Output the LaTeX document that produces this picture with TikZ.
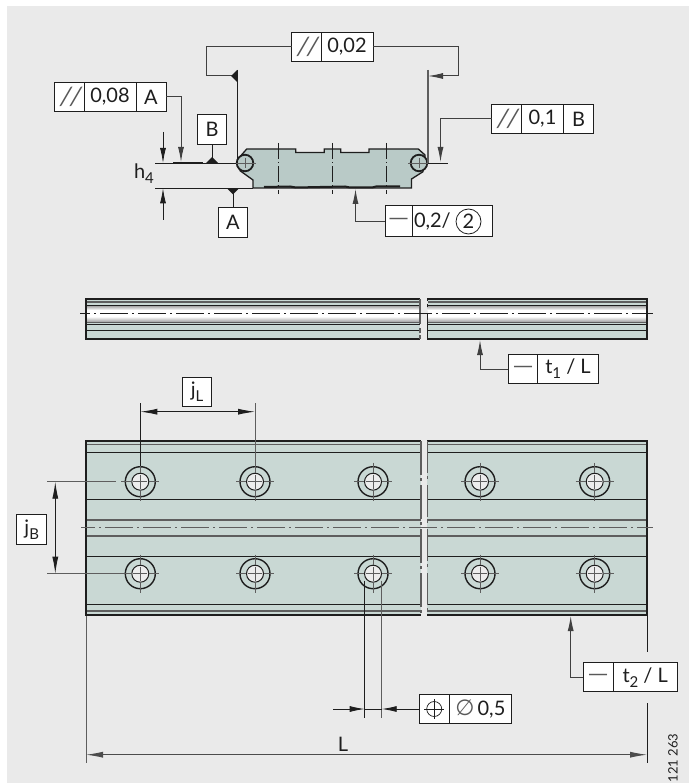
\documentclass[tikz,border=0pt]{standalone}
\usepackage{fontspec}
\setmainfont{Lato}
\newfontfamily\symfont{DejaVu Sans}
\usetikzlibrary{arrows.meta,calc}
\definecolor{bgc}{HTML}{EAEAEA}
\definecolor{railc}{HTML}{C9D8D4}
\definecolor{secc}{HTML}{B9CAC7}
\definecolor{inkc}{HTML}{1E1E1E}
\definecolor{greyc}{HTML}{5E5E5E}
\definecolor{holec}{HTML}{EDEDED}
\newcommand\sbs[1]{\raisebox{-0.5ex}{\fontsize{15}{15}\selectfont #1}}
\newcommand\parsym{{\color{black!65}\fontsize{25}{25}\selectfont\addfontfeatures{FakeSlant=0.18}/\kern-1.5pt/}}
\newcommand\dashsym{{\color{black!65}\symfont\fontsize{20}{20}\selectfont —}}
\tikzset{
  cell/.style={draw=inkc,fill=white,line width=1pt,minimum height=29.5pt,inner sep=0pt,outer sep=0pt,
     font=\fontsize{20}{22}\selectfont,text=inkc},
  ldr/.style={draw=black!75,line width=1pt},
  dim/.style={draw=inkc,line width=.9pt},
  tip/.style={-{Latex[length=15pt,width=6pt]}},
  tips/.style={{Latex[length=17pt,width=6pt]}-{Latex[length=17pt,width=6pt]}},
  edge/.style={draw=inkc,line width=1.8pt},
  thin/.style={draw=inkc,line width=1pt},
  soft/.style={draw=greyc,line width=1.3pt},
  datum/.style={fill=inkc,draw=none},
  outerh/.style={circle,draw=inkc,line width=1.4pt,minimum size=30pt,inner sep=0pt,fill=railc},
  innerh/.style={circle,draw=inkc,line width=1pt,minimum size=17pt,inner sep=0pt,fill=holec},
}
\begin{document}
\begin{tikzpicture}[x=1pt,y=-1pt]
\useasboundingbox (0,0) rectangle (689,783);
\fill[white] (0,0) rectangle (689,783);
\fill[bgc] (7,6) rectangle (689,783);

%% ---------- profile ----------
\fill[secc,draw=inkc,line width=1.3pt]
 (240,156.7) -- (246.7,149) -- (295.7,149) -- (295.7,152.5) -- (324.3,152.5) -- (324.3,149) -- (340.7,149)
 -- (340.7,152.5) -- (369,152.5) -- (369,149) -- (418.3,149) -- (425,155) -- (423,171.7) -- (411.5,179)
 -- (411.5,188) -- (253,188) -- (253,180) -- (240,170.7) -- cycle;
\draw[inkc,line width=2pt] (264,187) -- (290,186.5) -- (296,187.5) -- (320,187) -- (345,186.5) -- (350,187.5) -- (372,187.5) -- (376,186.5) -- (400,186.5);
\foreach \x in {278.3,332.5,386.3}
  \draw[draw=inkc,line width=.8pt,dash pattern=on 16pt off 3pt on 1.5pt off 3pt] (\x,143) -- (\x,194);
\node[circle,draw=inkc,line width=1.8pt,fill=secc,minimum size=16.5pt,inner sep=0pt] (pinL) at (245,163) {};
\node[circle,draw=inkc,line width=1.8pt,fill=secc,minimum size=16.5pt,inner sep=0pt] (pinR) at (419,163) {};
\foreach \n in {pinL,pinR}{
  \draw[greyc,line width=.6pt] ($(\n)+(-11,0)$) -- ($(\n)+(11,0)$);
  \draw[greyc,line width=.6pt] ($(\n)+(0,-5)$) -- ($(\n)+(0,5)$);
}

%% reference lines
\coordinate (h4a) at (155,163);
\coordinate (h4b) at (155,188.3);
\draw[dim] (h4a) -- (pinL.west);
\draw[inkc,line width=1.4pt] (173,163) -- (203,163);
\draw[dim] (h4b) -- (253,188.3);
\draw[dim] (pinR.east) -- (448,163);

%% h4
\coordinate (h4t) at (163,132);
\coordinate (h4u) at (163,163);
\coordinate (h4v) at (163,188.3);
\coordinate (h4w) at (163,220);
\draw[dim,tip] (h4t) -- (h4u);
\draw[dim,tip] (h4w) -- (h4v);
\node[font=\fontsize{20}{22}\selectfont,text=inkc] (h4) at (144,174) {h\sbs{4}};

%% tolerance 0,08 A
\node[cell,minimum width=29.5pt] (a1) at (69.5,97) {\parsym};
\node[cell,minimum width=52pt] (a2) at (110,97) {0,08};
\node[cell,minimum width=30pt] (a3) at (151,97) {A};
\coordinate (a4) at (181,162);
\draw[ldr,tip] (a3.east) -| (a4);

%% datums
\node[cell,minimum width=29.5pt] (bB) at (212,129.5) {B};
\coordinate (bBf) at (212,163);
\draw[dim] (bB.south) -- (bBf);
\fill[datum] (206,163) -- (212,157) -- (218,163) -- cycle;
\node[cell,minimum width=29.5pt] (bA) at (233,222.5) {A};
\coordinate (bAf) at (233,188.3);
\draw[dim] (bA.north) -- (bAf);
\fill[datum] (227,188.3) -- (239,188.3) -- (233,194.5) -- cycle;

%% tolerance 0,02
\node[cell,minimum width=29.5pt] (c1) at (306.5,47) {\parsym};
\node[cell,minimum width=52pt] (c2) at (347,47) {0,02};
\coordinate (cl1) at (206,76);
\coordinate (cl2) at (237,76);
\coordinate (cr1) at (458.5,76);
\coordinate (cr2) at (428,76);
\coordinate (cv1) at (237,70);
\coordinate (cv1b) at (237,163);
\coordinate (cv2) at (428,70);
\coordinate (cv2b) at (428,163);
\draw[ldr] (c1.west) -| (cl1) -- (cl2);
\draw[ldr] (c2.east) -| (cr1);
\draw[ldr,tip] (cr1) -- (cr2);
\fill[datum] (237,70) -- (237,82) -- (231,76) -- cycle;
\draw[dim] (cv1) -- (cv1b);
\draw[soft,line width=1.1pt] (cv2) -- (cv2b);

%% tolerance 0,1 B
\node[cell,minimum width=29.5pt] (d1) at (506.5,119) {\parsym};
\node[cell,minimum width=43pt] (d2) at (542.5,119) {0,1};
\node[cell,minimum width=29.5pt] (d3) at (578.5,119) {B};
\coordinate (d4) at (440.5,162);
\draw[ldr,tip] (d1.west) -| (d4);

%% straightness 0,2/2
\node[cell,minimum width=27pt,minimum height=31pt] (e1) at (398.5,221.5) {\dashsym};
\node[cell,minimum width=80pt,minimum height=31pt,text width=76pt,align=left] (e2) at (452,221.5) {0,2/};
\node[circle,draw=inkc,line width=.8pt,inner sep=0pt,minimum size=25pt,font=\fontsize{20}{22}\selectfont,text=inkc] (e3) at (468.5,221.5) {2};
\coordinate (e4) at (355.5,189);
\draw[ldr,tip] (e1.west) -| (e4);

%% ---------- side view ----------
\foreach \xa/\xb/\n in {86/420.3/l,427.5/647/r}{
  \fill[railc] (\xa,298.7) rectangle (\xb,339);
  \fill[white] (\xa,305) rectangle (\xb,322.5);
  \shade[top color=black!42,bottom color=white] (\xa,305) rectangle (\xb,310);
  \shade[top color=white,bottom color=black!42] (\xa,316.5) rectangle (\xb,322.5);
  \draw[soft] (\xa,302) -- (\xb,302);
  \draw[thin] (\xa,305) -- (\xb,305);
  \draw[soft,line width=1pt] (\xa,322.5) -- (\xb,322.5);
  \draw[thin] (\xa,324) -- (\xb,324);
  \draw[thin] (\xa,330.5) -- (\xb,330.5);
  \draw[edge] (\xa,298.7) -- (\xb,298.7);
  \draw[edge] (\xa,339) -- (\xb,339);
}
\draw[edge] (86,298) -- (86,339.7);
\draw[edge] (647,298) -- (647,339.7);
\draw[soft,line width=1.6pt] (420,299) -- (420,323.5) (420,328) -- (420,333) (420,335) -- (420,339);
\draw[edge] (427.5,298) -- (427.5,300.5) (427.5,303.5) -- (427.5,306.5) (427.5,313) -- (427.5,339.7);
\coordinate (sa) at (80,313.3);
\coordinate (sb) at (652.5,313.3);
\draw[draw=inkc,line width=.9pt,dash pattern=on 28pt off 4pt on 2pt off 4pt,dash phase=18pt] (sa) -- (sb);

\node[cell,minimum width=29.5pt] (t1a) at (523,369) {\dashsym};
\node[cell,minimum width=60.5pt] (t1b) at (568,369) {t\sbs{1} / L};
\coordinate (t1e) at (480,340);
\draw[ldr,tip] (t1a.west) -| (t1e);

%% ---------- plan view ----------
\foreach \xa/\xb in {86/420.7,427.3/646.7}{
  \fill[railc] (\xa,441) rectangle (\xb,615);
  \draw[soft] (\xa,444.5) -- (\xb,444.5);
  \draw[thin] (\xa,452) -- (\xb,452);
  \draw[thin] (\xa,499.3) -- (\xb,499.3);
  \draw[soft] (\xa,520) -- (\xb,520);
  \draw[soft] (\xa,536) -- (\xb,536);
  \draw[thin] (\xa,556) -- (\xb,556);
  \draw[thin] (\xa,604) -- (\xb,604);
  \draw[soft,line width=1.7pt] (\xa,610.7) -- (\xb,610.7);
  \draw[edge] (\xa,441) -- (\xb,441);
  \draw[edge] (\xa,615) -- (\xb,615);
}
\draw[edge] (86,440.3) -- (86,615.7);
\draw[edge] (646.7,440.3) -- (646.7,615.7);
\draw[soft,line width=1.6pt,dash pattern=on 34pt off 3pt on 3pt off 4pt] (420.7,441) -- (420.7,615);
\draw[soft,line width=1.3pt,dash pattern=on 32pt off 3pt on 3pt off 6pt] (427.3,441) -- (427.3,615);
\coordinate (pa) at (81,527.7);
\coordinate (pb) at (652.7,527.7);
\draw[draw=greyc,line width=1.4pt,dash pattern=on 28pt off 4pt on 2pt off 4pt,dash phase=14pt] (pa) -- (pb);

\foreach \x/\n in {140.3/A,255/B,373/C,480/D,594.7/E}{
  \foreach \y/\m in {481.7/u,573.7/v}{
    \node[outerh] (o\n\m) at (\x,\y) {};
    \node[innerh] (i\n\m) at (\x,\y) {};
    \draw[greyc,line width=1pt] ($(\x,\y)+(-19,0)$) -- ($(\x,\y)+(-9,0)$);
    \draw[greyc,line width=1pt] ($(\x,\y)+(9,0)$) -- ($(\x,\y)+(19,0)$);
    \draw[greyc,line width=1pt] ($(\x,\y)+(0,-19)$) -- ($(\x,\y)+(0,-9)$);
    \draw[greyc,line width=1pt] ($(\x,\y)+(0,9)$) -- ($(\x,\y)+(0,19)$);
    \draw[greyc,line width=.7pt] ($(\x,\y)+(-7,0)$) -- ($(\x,\y)+(7,0)$);
    \draw[greyc,line width=.7pt] ($(\x,\y)+(0,-7)$) -- ($(\x,\y)+(0,7)$);
  }
}

%% jL
\node[cell,minimum width=29.5pt] (jl) at (197,392) {j\sbs{L}};
\coordinate (jla) at (140.3,403);
\coordinate (jlb) at (255,403);
\coordinate (jlc) at (140.3,411.7);
\coordinate (jld) at (255,411.7);
\draw[dim] (jla) -- (oAu.north);
\draw[soft,line width=1pt] (jlb) -- (oBu.north);
\draw[dim,tips] (jlc) -- (jld);

%% jB
\node[cell,minimum width=29.5pt] (jb) at (31.7,529.5) {j\sbs{B}};
\coordinate (jba) at (47,481.7);
\coordinate (jbb) at (47,573.7);
\coordinate (jbc) at (55.3,481.7);
\coordinate (jbd) at (55.3,573.7);
\coordinate (jbe) at (116,481.7);
\draw[soft,line width=1pt] (jba) -- (jbe);
\draw[soft,line width=1pt] (jbb) -- (oAv.west);
\draw[dim,tips] (jbc) -- (jbd);

%% t2
\node[cell,minimum width=29.7pt] (t2a) at (598.2,677.2) {\dashsym};
\node[cell,minimum width=64.3pt] (t2b) at (645.2,677.2) {t\sbs{2} / L};
\coordinate (t2e) at (570.7,616);
\draw[ldr,tip] (t2a.west) -| (t2e);

%% position
\node[cell,minimum width=29.7pt] (p1) at (434.2,709) {};
\node[cell,minimum width=62.7pt] (p2) at (480.4,709) {{\color{black!65}\symfont\fontsize{22}{22}\selectfont ∅}\kern3pt 0,5};
\node[circle,draw=inkc,line width=.7pt,minimum size=15pt,inner sep=0pt] (p3) at (p1.center) {};
\draw[inkc,line width=.7pt] ($(p3)+(-10,0)$) -- ($(p3)+(10,0)$);
\draw[inkc,line width=.7pt] ($(p3)+(0,-10)$) -- ($(p3)+(0,10)$);
\coordinate (pv1) at (364.7,717.7);
\coordinate (pv2) at (381.7,717.7);
\coordinate (pv1a) at (364.7,709);
\coordinate (pv2a) at (381.7,709);
\coordinate (pt) at (333,709);
\draw[dim] ($(oCv.center)+(-8.3,7)$) -- (pv1);
\draw[soft] ($(oCv.center)+(8.7,7)$) -- (pv2);
\draw[dim,tip] (pt) -- (pv1a);
\draw[dim] (pv1a) -- (pv2a);
\draw[dim,tip] (p1.west) -- (pv2a);

%% L
\node[font=\fontsize{20}{22}\selectfont,text=inkc] (lL) at (343,744) {L};
\coordinate (la) at (86,616);
\coordinate (lb) at (86,763);
\coordinate (lc) at (647,616);
\coordinate (ld) at (647,651.5);
\coordinate (le) at (647,703);
\coordinate (lf) at (647,763);
\coordinate (lg) at (86,754.7);
\coordinate (lh) at (647,754.7);
\draw[soft,line width=1pt] (la) -- (lb);
\draw[dim] (lc) -- (ld);
\draw[dim] (le) -- (lf);
\draw[dim,draw=black!70,tips] (lg) -- (lh);

\node[rotate=90,font=\fontsize{13}{14}\selectfont,text=inkc] (code) at (673,758) {121 263};
\end{tikzpicture}
\end{document}
